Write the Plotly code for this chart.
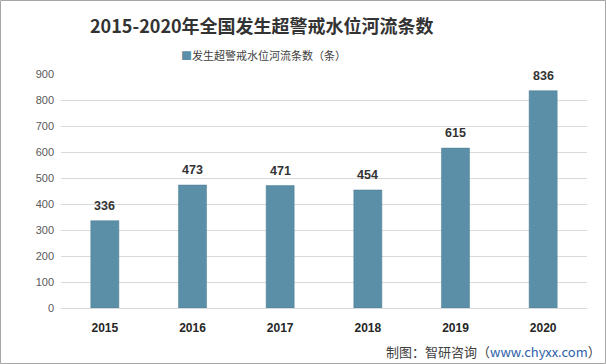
import plotly.graph_objects as go

years = ["2015", "2016", "2017", "2018", "2019", "2020"]
counts = [336, 473, 471, 454, 615, 836]
series_name = "发生超警戒水位河流条数（条）"
title = "2015-2020年全国发生超警戒水位河流条数"

W, H = 606, 364
L, R, T, B = 61, 19, 74, 56
PW, PH = W - L - R, H - T - B

def px(x):
    return (x - L) / PW

def py(y):
    return (H - B - y) / PH

fig = go.Figure()
fig.add_trace(go.Bar(
    x=years, y=counts, name=series_name,
    marker=dict(color="#5A8FA7", line=dict(color="#4F7F95", width=0.5)),
    showlegend=False, hoverinfo="x+y",
))
for i, v in enumerate(counts):
    fig.add_annotation(x=i, y=v, xref="x", yref="y", text="<b>%d</b>" % v, showarrow=False,
                       yanchor="middle", yshift=15,
                       font=dict(family="Liberation Sans, Arial", size=12.5, color="#333333"))

fig.update_layout(
    width=W, height=H,
    margin=dict(l=L, r=R, t=T, b=B),
    paper_bgcolor="white", plot_bgcolor="white",
    bargap=0.68,
    showlegend=False,
    xaxis=dict(type="category", range=[-0.5, len(years) - 0.5], showline=True,
               linecolor="#D9D9D9", linewidth=1, ticks="",
               tickfont=dict(family="Liberation Sans, Arial", size=12, color="#262626"),
               tickprefix="<b>", ticksuffix="</b>", ticklabelstandoff=9),
    yaxis=dict(range=[0, 900], dtick=100, showgrid=True, gridcolor="#D9D9D9",
               zeroline=False, ticks="", ticklen=0, ticklabelstandoff=6,
               tickfont=dict(family="Liberation Sans, Arial", size=11, color="#595959")),
)
fig.add_shape(type="rect", xref="paper", yref="paper",
              x0=px(0.5), x1=px(W - 0.5), y0=py(H - 0.5), y1=py(0.5),
              line=dict(color="#A6A6A6", width=1))
fig.add_annotation(
    text="<b>" + title + "</b>", xref="paper", yref="paper",
    x=px(262), xanchor="center", y=py(25), yanchor="middle", showarrow=False,
    font=dict(family="Noto Sans CJK SC", size=18, color="#333333"))
fig.add_annotation(
    text="<span style='color:#5A8FA7'>■</span>" + series_name, xref="paper", yref="paper",
    x=px(179), xanchor="left", y=py(55), yanchor="middle", showarrow=False,
    font=dict(family="Noto Sans CJK SC", size=11, color="#404040"))
fig.add_annotation(
    text="制图：智研咨询（<span style='color:#2E5FA8'>www.chyxx.com</span>）",
    xref="paper", yref="paper", x=px(603), xanchor="right", y=py(351), yanchor="middle",
    showarrow=False, font=dict(family="Noto Sans CJK SC", size=13, color="#404040"))

fig.write_html("out.html", config={"displayModeBar": False},
               post_script="document.body.style.margin='0';document.body.style.overflow='hidden';")
